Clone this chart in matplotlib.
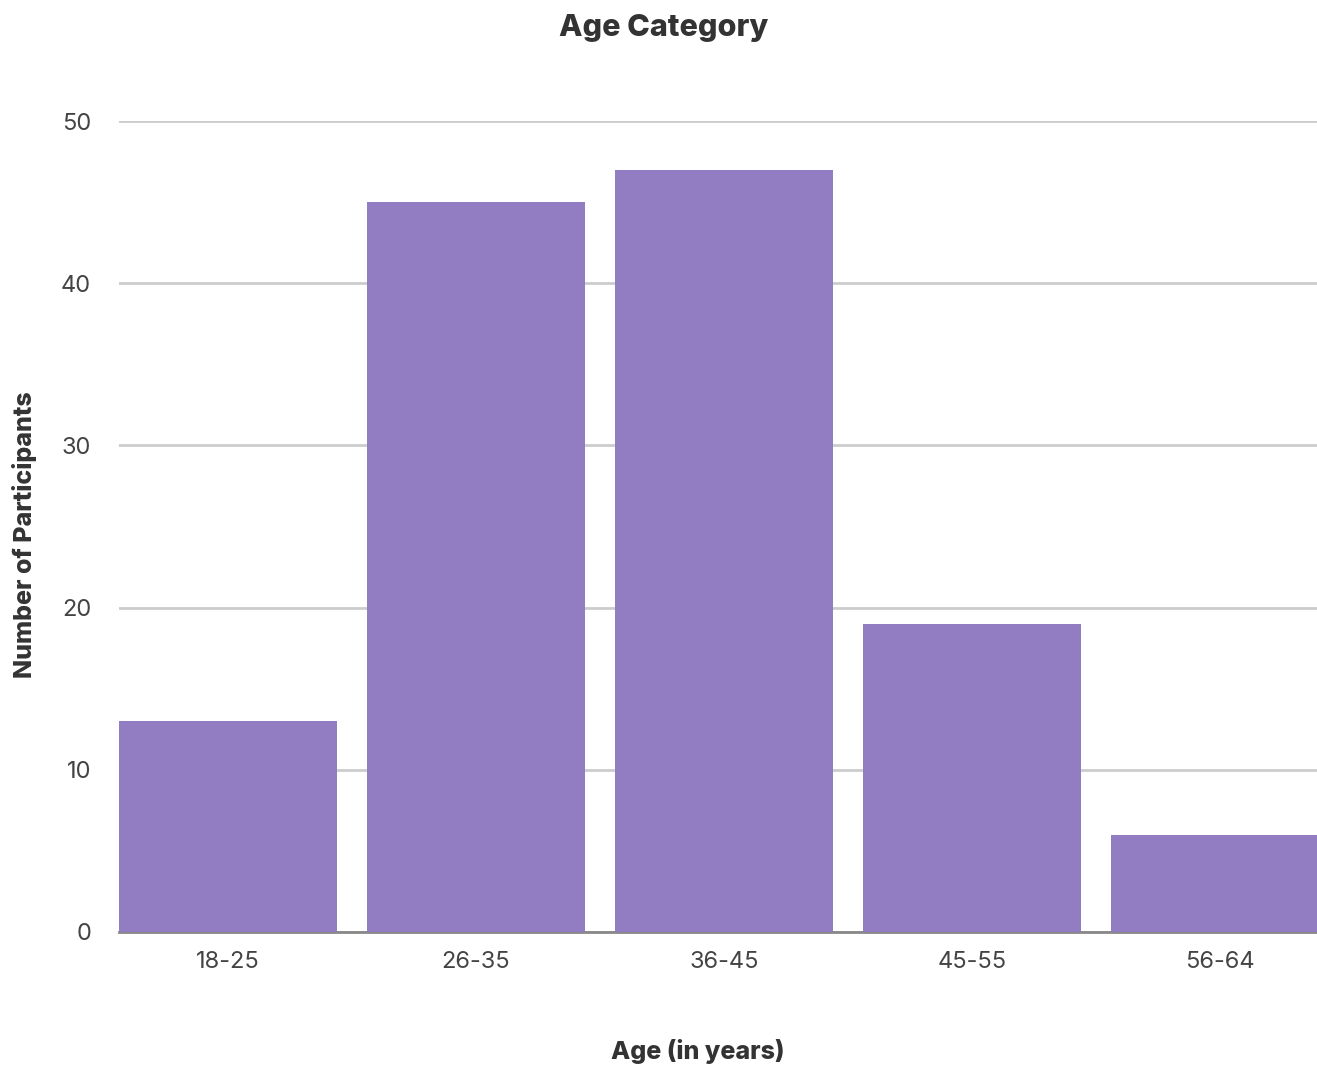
import matplotlib
matplotlib.use("Agg")
import matplotlib.pyplot as plt

categories = ["18-25", "26-35", "36-45", "45-55", "56-64"]
values = [13, 45, 47, 19, 6]
yticks = [0, 10, 20, 30, 40, 50]

plt.rcParams['font.family'] = ['Inter', 'DejaVu Sans']
fig = plt.figure(figsize=(13.17, 10.67), dpi=100)
ax = fig.add_axes([119/1317, 1-932/1067, 1-119/1317, (932-121)/1067])

x = list(range(len(categories)))
ax.bar(x, values, width=0.879, color="#927cc2", zorder=3)
ax.set_xlim(-0.4395, 4.391)
ax.set_ylim(0, 50)
ax.set_yticks(yticks)
ax.set_xticks(x)
ax.set_xticklabels(categories)
ax.grid(axis='y', color="#cccccc", linewidth=2, zorder=0)
for s in ["top", "right", "left"]:
    ax.spines[s].set_visible(False)
ax.spines["bottom"].set_color("#888888")
ax.spines["bottom"].set_linewidth(2)
ax.spines["bottom"].set_zorder(2)
ax.tick_params(axis='both', length=0, labelsize=17, colors="#444444")
ax.tick_params(axis='x', pad=14)
ax.tick_params(axis='y', pad=20)

fig.text(664/1317, 1-28/1067, "Age Category", ha='center', va='center',
         fontsize=22, fontweight='heavy', color="#333333")
fig.text(698/1317, 1-1052/1067, "Age (in years)", ha='center', va='center',
         fontsize=18, fontweight='heavy', color="#333333")
fig.text(25/1317, 1-535/1067, "Number of Participants", ha='center', va='center',
         rotation=90, fontsize=18, fontweight='heavy', color="#333333")

fig.savefig("out.png", dpi=100)
